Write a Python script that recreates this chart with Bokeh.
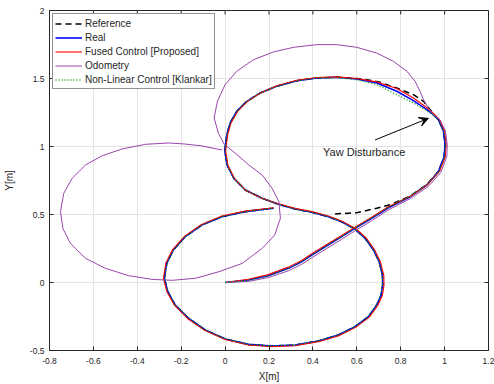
import math
from bokeh.plotting import figure
from bokeh.models import (Range1d, FixedTicker, Legend, LegendItem,
                          Arrow, VeeHead, Label)
from bokeh.embed import file_html
from bokeh.resources import INLINE

# ---------------- data ----------------
x_ticks = [-0.8, -0.6, -0.4, -0.2, 0, 0.2, 0.4, 0.6, 0.8, 1, 1.2]
x_tick_labels = ["-0.8", "-0.6", "-0.4", "-0.2", "0", "0.2", "0.4", "0.6", "0.8", "1", "1.2"]
y_ticks = [-0.5, 0, 0.5, 1, 1.5, 2]
y_tick_labels = ["-0.5", "0", "0.5", "1", "1.5", "2"]

ref_x = [0.501, 0.600, 0.690, 0.752, 0.843, 0.919, 0.972, 0.998, 1.002, 0.995, 0.975, 0.950, 0.934,
         0.904, 0.858, 0.782, 0.706, 0.646, 0.600, 0.509, 0.418, 0.327, 0.235, 0.159, 0.099, 0.053,
         0.023, 0.008, 0.000, -0.001, 0.009, 0.040, 0.092, 0.169, 0.243, 0.319, 0.395, 0.471, 0.531,
         0.592, 0.638, 0.676, 0.702, 0.717, 0.718, 0.711, 0.691, 0.653, 0.592, 0.516, 0.425, 0.319,
         0.213, 0.106, 0.000, -0.091, -0.167, -0.228, -0.261, -0.277, -0.266, -0.236, -0.182, -0.106,
         -0.015, 0.091, 0.220]
ref_y = [0.504, 0.513, 0.546, 0.572, 0.635, 0.720, 0.818, 0.925, 1.013, 1.112, 1.190, 1.240, 1.271,
         1.332, 1.381, 1.430, 1.472, 1.491, 1.500, 1.509, 1.504, 1.484, 1.443, 1.393, 1.332, 1.259,
         1.173, 1.087, 0.990, 0.962, 0.864, 0.766, 0.680, 0.619, 0.575, 0.540, 0.516, 0.484, 0.447,
         0.393, 0.325, 0.239, 0.153, 0.055, -0.018, -0.092, -0.165, -0.251, -0.325, -0.386, -0.430, -0.460,
         -0.467, -0.455, -0.415, -0.349, -0.263, -0.165, -0.068, 0.031, 0.141, 0.239, 0.337, 0.423,
         0.484, 0.521, 0.546]

real_x = [0.000, 0.106, 0.197, 0.288, 0.349, 0.395, 0.456, 0.531, 0.592, 0.668, 0.744, 0.843, 0.919,
          0.972, 0.998, 1.002, 0.995, 0.972, 0.946, 0.919, 0.858, 0.782, 0.691, 0.600, 0.509, 0.418,
          0.327, 0.235, 0.159, 0.099, 0.053, 0.023, 0.008, 0.000, -0.001, 0.009, 0.040, 0.092, 0.169,
          0.243, 0.319, 0.395, 0.471, 0.531, 0.592, 0.638, 0.676, 0.702, 0.717, 0.718, 0.711, 0.691,
          0.653, 0.592, 0.516, 0.425, 0.319, 0.213, 0.106, 0.000, -0.091, -0.167, -0.228, -0.261,
          -0.277, -0.266, -0.236, -0.182, -0.106, -0.015, 0.091, 0.220]
real_y = [0.000, 0.018, 0.050, 0.104, 0.153, 0.202, 0.263, 0.337, 0.398, 0.472, 0.550, 0.631, 0.717,
          0.815, 0.925, 1.013, 1.112, 1.197, 1.239, 1.271, 1.337, 1.406, 1.467, 1.496, 1.509, 1.504,
          1.484, 1.443, 1.393, 1.332, 1.259, 1.173, 1.087, 0.990, 0.962, 0.864, 0.766, 0.680, 0.619,
          0.575, 0.540, 0.516, 0.484, 0.447, 0.393, 0.325, 0.239, 0.153, 0.055, -0.018, -0.092, -0.165,
          -0.251, -0.325, -0.386, -0.430, -0.460, -0.467, -0.455, -0.415, -0.349, -0.263, -0.165, -0.068,
          0.031, 0.141, 0.239, 0.337, 0.423, 0.484, 0.521, 0.546]

fused_x = [0.000, 0.106, 0.197, 0.288, 0.349, 0.395, 0.456, 0.531, 0.592, 0.668, 0.744, 0.846, 0.923,
           0.977, 1.003, 1.007, 1.000, 0.976, 0.949, 0.921, 0.858, 0.782, 0.691, 0.600, 0.509, 0.418,
           0.327, 0.235, 0.161, 0.102, 0.057, 0.027, 0.012, 0.004, 0.003, 0.013, 0.043, 0.094, 0.170,
           0.243, 0.319, 0.395, 0.471, 0.533, 0.596, 0.643, 0.681, 0.707, 0.723, 0.724, 0.717, 0.696,
           0.657, 0.595, 0.518, 0.426, 0.319, 0.213, 0.106, 0.000, -0.093, -0.170, -0.231, -0.265,
           -0.281, -0.270, -0.239, -0.184, -0.107, -0.015, 0.091, 0.220]
fused_y = [0.000, 0.024, 0.058, 0.113, 0.162, 0.211, 0.272, 0.346, 0.407, 0.480, 0.557, 0.636, 0.721,
           0.818, 0.925, 1.013, 1.112, 1.199, 1.243, 1.283, 1.357, 1.426, 1.475, 1.500, 1.512, 1.507,
           1.487, 1.447, 1.394, 1.332, 1.258, 1.173, 1.087, 0.990, 0.962, 0.862, 0.763, 0.677, 0.617,
           0.579, 0.545, 0.521, 0.489, 0.451, 0.396, 0.327, 0.240, 0.153, 0.055, -0.018, -0.093, -0.167,
           -0.255, -0.330, -0.391, -0.435, -0.465, -0.472, -0.460, -0.419, -0.352, -0.266, -0.167, -0.068,
           0.031, 0.143, 0.242, 0.341, 0.427, 0.489, 0.525, 0.550]

odo_x = [0.000, 0.106, 0.197, 0.288, 0.349, 0.395, 0.456, 0.531, 0.592, 0.668, 0.744, 0.843, 0.925,
         0.982, 1.010, 1.012, 1.004, 0.980, 0.946, 0.926, 0.904, 0.888, 0.866, 0.828, 0.767, 0.691,
         0.600, 0.509, 0.418, 0.311, 0.220, 0.129, 0.053, 0.000, -0.035, -0.050, -0.030, -0.003,
         0.047, 0.108, 0.169, 0.214, 0.245, 0.252, 0.226, 0.169, 0.077, -0.029, -0.135, -0.241,
         -0.333, -0.439, -0.545, -0.636, -0.705, -0.739, -0.750, -0.735, -0.697, -0.636, -0.560,
         -0.469, -0.363, -0.257, -0.181, -0.105, -0.014]
odo_y = [0.000, 0.008, 0.036, 0.086, 0.134, 0.182, 0.243, 0.318, 0.380, 0.455, 0.534, 0.617, 0.705,
         0.808, 0.925, 1.013, 1.112, 1.195, 1.239, 1.283, 1.344, 1.406, 1.479, 1.553, 1.626, 1.687,
         1.729, 1.749, 1.749, 1.729, 1.695, 1.638, 1.553, 1.455, 1.332, 1.210, 1.095, 1.015,
         0.950, 0.864, 0.790, 0.693, 0.594, 0.472, 0.349, 0.251, 0.140, 0.079, 0.031, 0.016,
         0.023, 0.050, 0.104, 0.178, 0.288, 0.398, 0.521, 0.656, 0.766, 0.864, 0.932,
         0.982, 1.016, 1.026, 1.018, 1.004, 0.974]

klankar_x = [0.000, 0.106, 0.197, 0.288, 0.349, 0.395, 0.456, 0.531, 0.592, 0.668, 0.744, 0.843, 0.920,
             0.974, 1.000, 1.004, 0.996, 0.971, 0.944, 0.919, 0.858, 0.782, 0.691, 0.600, 0.509, 0.418,
             0.327, 0.235, 0.159, 0.099, 0.053, 0.023, 0.008, 0.000, -0.001, 0.009, 0.040, 0.092, 0.169,
             0.243, 0.319, 0.395, 0.471, 0.531, 0.592, 0.638, 0.676, 0.701, 0.716, 0.717, 0.710, 0.690,
             0.652, 0.592, 0.516, 0.425, 0.319, 0.213, 0.106, 0.000, -0.090, -0.166, -0.227, -0.260,
             -0.276, -0.265, -0.235, -0.181, -0.106, -0.015, 0.091, 0.220]
klankar_y = [0.000, 0.016, 0.049, 0.103, 0.153, 0.202, 0.263, 0.338, 0.400, 0.475, 0.553, 0.634, 0.719,
             0.815, 0.925, 1.013, 1.112, 1.196, 1.236, 1.262, 1.320, 1.381, 1.455, 1.490, 1.507, 1.503,
             1.483, 1.442, 1.392, 1.331, 1.258, 1.173, 1.087, 0.990, 0.962, 0.864, 0.766, 0.680, 0.619,
             0.575, 0.540, 0.516, 0.484, 0.447, 0.393, 0.325, 0.239, 0.153, 0.055, -0.018, -0.092, -0.164,
             -0.250, -0.324, -0.385, -0.429, -0.459, -0.466, -0.454, -0.414, -0.348, -0.262, -0.164, -0.068,
             0.031, 0.141, 0.239, 0.337, 0.423, 0.484, 0.521, 0.546]

series_labels = ["Reference", "Real", "Fused Control [Proposed]", "Odometry",
                 "Non-Linear Control [Klankar]"]
annotation_text = "Yaw Disturbance"

# ---------------- figure ----------------
FONT = "Liberation Sans"
TXT = "#262626"

p = figure(width=494, height=384, x_range=Range1d(-0.8, 1.2), y_range=Range1d(-0.5, 2),
           output_backend="svg", toolbar_location=None,
           min_border_left=49, min_border_right=6, min_border_top=10, min_border_bottom=34)
p.background_fill_color = "white"
p.border_fill_color = "white"
p.outline_line_color = TXT
p.outline_line_width = 1

def style_axis(ax, ticks, labels):
    ax.ticker = FixedTicker(ticks=ticks)
    ax.major_label_overrides = {t: l for t, l in zip(ticks, labels)}
    ax.minor_tick_line_color = None
    ax.major_tick_in = 4
    ax.major_tick_out = 0
    ax.major_tick_line_color = TXT
    ax.axis_line_color = TXT
    ax.major_label_text_font = FONT
    ax.major_label_text_color = TXT
    ax.major_label_text_font_size = "8.5px"
    ax.major_label_standoff = 6
    ax.axis_label_text_font = FONT
    ax.axis_label_text_font_size = "10px"
    ax.axis_label_text_font_style = "normal"
    ax.axis_label_text_color = TXT

style_axis(p.xaxis[0], x_ticks, x_tick_labels)
style_axis(p.yaxis[0], y_ticks, y_tick_labels)
p.xaxis[0].axis_label = "X[m]"
p.yaxis[0].axis_label = "Y[m]"
p.xaxis[0].major_label_standoff = 7
p.xaxis[0].axis_label_standoff = 4
p.yaxis[0].major_label_standoff = 5
p.yaxis[0].axis_label_standoff = 12

# inward ticks on the top and right edges of the box
p.ray(x=x_ticks, y=[y_ticks[-1]] * len(x_ticks), length=4, length_units="screen",
      angle=-math.pi / 2, line_color=TXT, line_width=1)
p.ray(x=[x_ticks[-1]] * len(y_ticks), y=y_ticks, length=4, length_units="screen",
      angle=math.pi, line_color=TXT, line_width=1)

p.xgrid.ticker = FixedTicker(ticks=x_ticks)
p.ygrid.ticker = FixedTicker(ticks=y_ticks)
p.grid.grid_line_color = "#e4e4e4"
p.grid.grid_line_width = 1

r_ref = p.line(ref_x, ref_y, line_color="black", line_width=1.5, line_dash="6 4")
r_real = p.line(real_x, real_y, line_color="#0000ff", line_width=1.6)
r_fused = p.line(fused_x, fused_y, line_color="#ff0000", line_width=1.1)
r_odo = p.line(odo_x, odo_y, line_color="#9a45ad", line_width=1)
r_kl = p.line(klankar_x, klankar_y, line_color="#00a000", line_width=1.4, line_dash="1 2")

legend = Legend(items=[LegendItem(label=lab, renderers=[r]) for lab, r in
                       zip(series_labels, [r_ref, r_real, r_fused, r_odo, r_kl])],
                location="top_left", margin=3, padding=2, spacing=0,
                glyph_width=27, glyph_height=13, label_height=14, label_standoff=3,
                label_text_font=FONT, label_text_font_size="10px", label_text_color=TXT,
                border_line_color=TXT, border_line_width=1,
                background_fill_color="white", background_fill_alpha=1)
p.add_layout(legend)

p.add_layout(Arrow(end=VeeHead(size=9, fill_color="black", line_color="black"),
                   x_start=0.683, y_start=1.048, x_end=0.926, y_end=1.207,
                   line_color="black", line_width=1))
p.add_layout(Label(x=0.446, y=0.962, text=annotation_text, text_baseline="middle",
                   text_align="left", text_font=FONT, text_font_size="11px", text_color=TXT))

open("out.html", "w").write(file_html(p, INLINE))
